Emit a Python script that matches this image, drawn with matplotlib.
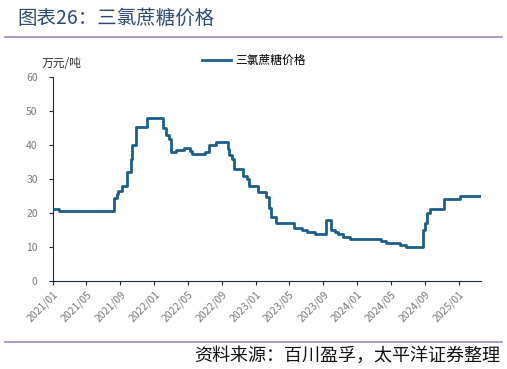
import matplotlib
matplotlib.use("Agg")
from matplotlib import pyplot as plt
import matplotlib.dates as mdates
import pandas as pd

plt.rcParams['font.family'] = ['Noto Sans CJK SC', 'DejaVu Sans']

# step points (date of change, new price in 万元/吨)
dates = ["2021-01-01", "2021-01-22", "2021-08-10", "2021-08-19", "2021-08-24",
         "2021-09-08", "2021-09-25", "2021-10-09", "2021-10-13", "2021-10-26",
         "2021-12-06", "2022-02-01", "2022-02-12", "2022-02-24", "2022-03-03",
         "2022-03-21", "2022-04-17", "2022-05-08", "2022-05-18", "2022-07-04",
         "2022-07-15", "2022-08-10", "2022-09-22", "2022-09-27", "2022-10-08",
         "2022-10-15", "2022-11-15", "2022-12-01", "2022-12-07", "2023-01-10",
         "2023-02-08", "2023-02-18", "2023-02-26", "2023-03-16", "2023-05-19",
         "2023-06-15", "2023-07-05", "2023-08-02", "2023-09-10", "2023-09-28",
         "2023-10-13", "2023-10-25", "2023-11-12", "2023-12-06", "2024-03-26",
         "2024-04-14", "2024-06-04", "2024-06-25", "2024-08-27", "2024-08-31",
         "2024-09-09", "2024-09-21", "2024-11-08", "2025-01-05", "2025-03-22"]
prices = [21.1, 20.5, 24.5, 25.5, 26.5,
          28.0, 32.0, 36.0, 40.0, 45.2,
          48.0, 45.0, 43.0, 41.8, 38.0,
          38.5, 39.0, 38.3, 37.3, 38.0,
          40.0, 40.9, 38.7, 37.0, 36.0,
          33.0, 31.0, 30.0, 28.0, 26.1,
          24.8, 21.4, 18.9, 17.1, 15.5,
          15.0, 14.5, 13.8, 17.9, 15.0,
          14.3, 13.7, 13.0, 12.4, 11.8,
          11.1, 10.5, 10.1, 15.0, 17.0,
          19.9, 21.1, 24.0, 25.1, 25.1]

x_ticks = ["2021-01", "2021-05", "2021-09", "2022-01", "2022-05", "2022-09", "2023-01",
           "2023-05", "2023-09", "2024-01", "2024-05", "2024-09", "2025-01"]
y_ticks = [0, 10, 20, 30, 40, 50, 60]

x = pd.to_datetime(dates)
line_color = "#1c5f8a"

fig = plt.figure(figsize=(5.07, 3.69), dpi=100)
ax = fig.add_axes([0.1045, 0.2385, 0.8442, 0.5528])
ax.plot(x, prices, drawstyle="steps-post", color=line_color, lw=2, label="三氯蔗糖价格")

ax.set_xlim(x[0], x[-1])
ax.set_ylim(0, 60)
ax.set_yticks(y_ticks)
ax.set_xticks(pd.to_datetime(x_ticks))
ax.xaxis.set_major_formatter(mdates.DateFormatter("%Y/%m"))
for lab in ax.get_xticklabels():
    lab.set_rotation(45)
    lab.set_ha("right")
    lab.set_rotation_mode("anchor")
ax.tick_params(axis="both", labelsize=7.5, labelcolor="#7a7a7a", length=3, color="#1a2a44")
ax.tick_params(axis="y", pad=8)
ax.tick_params(axis="x", pad=3)
for s in ["top", "right"]:
    ax.spines[s].set_visible(False)
ax.spines["left"].set_color("#1a2a44")
ax.spines["bottom"].set_color("#1a2a44")

ax.text(-0.026, 1.065, "万元/吨", transform=ax.transAxes, fontsize=8.5, color="#333333",
        ha="left", va="center")
ax.legend(loc="upper center", bbox_to_anchor=(0.47, 1.165), frameon=False, fontsize=8.5,
          handlelength=2.4, handletextpad=0.4)

fig.text(0.035, 0.95, "图表26：三氯蔗糖价格", fontsize=14, color="#2d4a78", ha="left", va="center")
fig.add_artist(plt.Line2D([0.01, 0.99], [0.9, 0.9], transform=fig.transFigure,
                          color="#8f8fc2", lw=1.2))
fig.add_artist(plt.Line2D([0.01, 0.99], [0.073, 0.073], transform=fig.transFigure,
                          color="#8f8fc2", lw=1.2))
fig.text(0.987, 0.036, "资料来源：百川盈孚，太平洋证券整理", fontsize=13, color="#111111",
         ha="right", va="center", style="italic")

fig.savefig("out.png", dpi=100)
